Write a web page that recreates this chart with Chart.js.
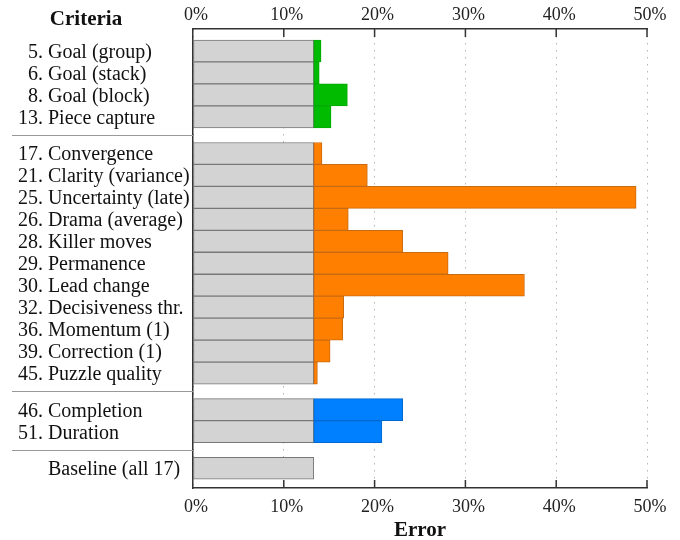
<!DOCTYPE html>
<html>
<head>
<meta charset="utf-8">
<script src="https://cdn.jsdelivr.net/npm/chart.js@4/dist/chart.umd.min.js"></script>
<style>
html,body{margin:0;padding:0;background:#fff;}
#wrap{width:680px;height:540px;}
</style>
</head>
<body>
<div id="wrap"><canvas id="c" width="680" height="540"></canvas></div>
<script>
// ---- data ----
const criteriaIds = ['5.', '6.', '8.', '13.',
  '17.', '21.', '25.', '26.', '28.', '29.', '30.', '32.', '36.', '39.', '45.',
  '46.', '51.',
  ''];
const criteriaNames = ['Goal (group)', 'Goal (stack)', 'Goal (block)', 'Piece capture',
  'Convergence', 'Clarity (variance)', 'Uncertainty (late)', 'Drama (average)', 'Killer moves',
  'Permanence', 'Lead change', 'Decisiveness thr.', 'Momentum (1)', 'Correction (1)', 'Puzzle quality',
  'Completion', 'Duration',
  'Baseline (all 17)'];
const groupOf = ['goal', 'goal', 'goal', 'goal',
  'game', 'game', 'game', 'game', 'game', 'game', 'game', 'game', 'game', 'game', 'game',
  'length', 'length',
  'base'];
const baseError = [13.3, 13.3, 13.3, 13.3,
  13.3, 13.3, 13.3, 13.3, 13.3, 13.3, 13.3, 13.3, 13.3, 13.3, 13.3,
  13.3, 13.3,
  13.3];
const totalError = [14.1, 13.9, 17.0, 15.2,
  14.2, 19.2, 48.8, 17.1, 23.1, 28.1, 36.5, 16.6, 16.5, 15.1, 13.7,
  23.1, 20.8,
  null];
const tickValues = [0, 10, 20, 30, 40, 50];
const groupColors = { goal: '#00bb00', game: '#ff8000', length: '#0080ff', base: '#d3d3d3' };
const groupBorders = { goal: '#00a800', game: '#c86a10', length: '#0068d0', base: '#777' };

// ---- row positions (groups separated by a smaller gap) ----
const GAP = 2 / 3;
const positions = [];
{
  let p = 0;
  for (let i = 0; i < groupOf.length; i++) {
    if (i > 0 && groupOf[i] !== groupOf[i - 1]) p += GAP;
    positions.push(p);
    p += 1;
  }
}

const FONT = '"Liberation Serif", "Times New Roman", serif';

const grayData = positions.map((p, i) => ({ y: p, x: [0, baseError[i]] }));
const colorData = [];
const colorBg = [];
const colorBd = [];
positions.forEach((p, i) => {
  if (totalError[i] != null) {
    colorData.push({ y: p, x: [baseError[i], totalError[i]] });
    colorBg.push(groupColors[groupOf[i]]);
    colorBd.push(groupBorders[groupOf[i]]);
  }
});

const labelsPlugin = {
  id: 'labelsPlugin',
  afterDraw(chart) {
    const ctx = chart.ctx;
    const ys = chart.scales.y;
    const xs = chart.scales.x;
    const area = chart.chartArea;
    ctx.save();
    // row labels
    ctx.fillStyle = '#111';
    ctx.font = '20px ' + FONT;
    ctx.textBaseline = 'alphabetic';
    positions.forEach((p, i) => {
      const y = ys.getPixelForValue(p) + 7;
      ctx.textAlign = 'right';
      ctx.fillText(criteriaIds[i], 43, y);
      ctx.textAlign = 'left';
      ctx.fillText(criteriaNames[i], 48, y);
    });
    // headers
    ctx.font = 'bold 21px ' + FONT;
    ctx.textAlign = 'center';
    ctx.fillText('Criteria', 86, 25);
    ctx.fillText('Error', (area.left + area.right) / 2, 536);
    // group separators
    ctx.strokeStyle = '#999';
    ctx.lineWidth = 1;
    for (let i = 1; i < positions.length; i++) {
      if (groupOf[i] !== groupOf[i - 1]) {
        const y = Math.round(ys.getPixelForValue((positions[i] + positions[i - 1]) / 2)) + 0.5;
        ctx.beginPath();
        ctx.moveTo(12, y);
        ctx.lineTo(area.left, y);
        ctx.stroke();
      }
    }
    // inward ticks
    ctx.strokeStyle = '#333';
    ctx.lineWidth = 1.5;
    tickValues.forEach(v => {
      if (v === 0) return;
      const x = xs.getPixelForValue(v);
      ctx.beginPath();
      ctx.moveTo(x, area.top);
      ctx.lineTo(x, area.top + 8);
      ctx.moveTo(x, area.bottom);
      ctx.lineTo(x, area.bottom - 8);
      ctx.stroke();
    });
    ctx.restore();
  }
};

const xTicks = {
  stepSize: 10,
  font: { family: FONT, size: 18 },
  color: '#222',
  callback: v => v + '%',
  maxRotation: 0,
  labelOffset: 3
};

new Chart(document.getElementById('c'), {
  type: 'bar',
  data: {
    datasets: [
      {
        data: colorData,
        backgroundColor: colorBg,
        borderColor: colorBd,
        borderWidth: 1,
        borderSkipped: false,
        grouped: false,
        categoryPercentage: 1,
        barPercentage: 1,
        order: 0
      },
      {
        data: grayData,
        backgroundColor: '#d3d3d3',
        borderColor: '#777',
        borderWidth: 1,
        borderSkipped: false,
        grouped: false,
        categoryPercentage: 1,
        barPercentage: 1,
        order: 1
      }
    ]
  },
  options: {
    indexAxis: 'y',
    responsive: false,
    animation: false,
    events: [],
    layout: { padding: { left: 0, right: 33, top: 0, bottom: 0 } },
    plugins: { legend: { display: false }, tooltip: { enabled: false } },
    scales: {
      y: {
        type: 'linear',
        offset: false,
        min: -1,
        max: 19.9,
        reverse: true,
        afterBuildTicks: s => { s.ticks = positions.map(v => ({ value: v })); },
        afterFit: s => { s.width = 193; },
        ticks: { display: false },
        grid: { display: false },
        border: { display: true, color: '#333', width: 1.5 }
      },
      x: {
        type: 'linear',
        position: 'bottom',
        min: 0,
        max: 50,
        afterFit: s => { s.height = 52; },
        ticks: Object.assign({ padding: 8 }, xTicks),
        grid: { display: true, drawTicks: false, color: '#b5b5b5', lineWidth: 1 },
        border: { display: true, color: '#333', width: 1.5, dash: [1.5, 5.5] }
      },
      x2: {
        type: 'linear',
        position: 'top',
        min: 0,
        max: 50,
        afterFit: s => { s.height = 29; },
        ticks: Object.assign({ padding: 3 }, xTicks),
        grid: { display: false, drawTicks: false },
        border: { display: true, color: '#333', width: 1.5 }
      }
    }
  },
  plugins: [labelsPlugin]
});
</script>
</body>
</html>
